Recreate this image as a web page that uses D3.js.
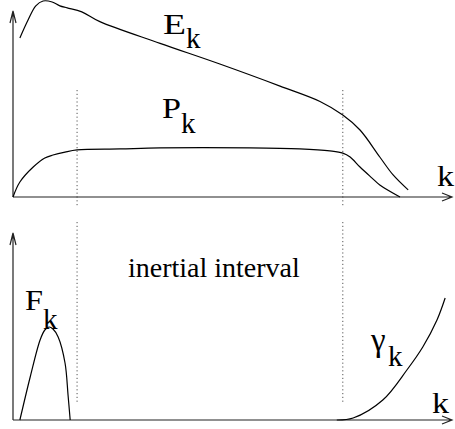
<!DOCTYPE html>
<html>
<head>
<meta charset="utf-8">
<script src="https://cdn.jsdelivr.net/npm/d3@7"></script>
<style>
  body { margin: 0; background: #fff; }
</style>
</head>
<body>
<div id="container"></div>
<script>
let w = 455;
let h = 429;
let serif = "'Liberation Serif', 'DejaVu Serif', serif";

// spectra (k in 0..100, value in 0..100 per panel)
let energy = [
  [1.6, 80.7], [3.5, 89.8], [5.3, 97], [7.0, 99.5], [9.1, 99], [10.9, 97],
  [12.6, 96], [16.0, 94], [20.2, 89], [34.2, 78], [48.1, 67.5], [62.1, 56.3],
  [71.4, 48.5], [76.7, 41.6], [80.7, 34], [85.3, 20.3], [88.4, 11.2], [91.9, 3.6]
];
let flux = [
  [0, 0], [1.6, 7.6], [4.7, 15.2], [7.4, 19.8], [9.3, 21.3], [12.1, 22.8],
  [14.9, 23.9], [24.9, 24.4], [34.2, 24.9], [55.1, 24.9], [66.7, 24.4],
  [73.7, 23.4], [76.7, 22.3], [78.4, 20.3], [80.7, 15.2], [83.5, 9.6],
  [85.3, 6.1], [90, 0]
];
let forcing = [
  [1.6, 0], [4.0, 21.5], [6.3, 40], [7.4, 45], [8.4, 46.5], [9.3, 45.5],
  [10.5, 41.5], [12.1, 28.5], [12.8, 12.5], [13.3, 0]
];
let damping = [
  [75.3, 0], [79.1, 1], [86, 10], [91.6, 25], [95.3, 36.5], [98.6, 50], [100.5, 61]
];
let boundaries = [14.9, 76.7];

let viz = d3.select("#container")
  .append("svg")
  .attr("width", w)
  .attr("height", h);

let x = d3.scaleLinear().domain([0, 100]).range([13, 443]);
let yTop = d3.scaleLinear().domain([0, 100]).range([197, 0]);
let yBot = d3.scaleLinear().domain([0, 100]).range([420, 220]);

function drawPanel(y, axisTop, dotTop, dotBottom) {
  let g = viz.append("g");

  // dotted boundaries of the inertial interval
  g.selectAll(".bound").data(boundaries).enter()
    .append("line")
    .attr("class", "bound")
    .attr("x1", d => x(d)).attr("x2", d => x(d))
    .attr("y1", dotTop).attr("y2", dotBottom)
    .attr("stroke", "#555")
    .attr("stroke-width", 1)
    .attr("stroke-dasharray", "1.2,2.6");

  // axes with open arrow heads
  let x0 = x(0), yb = y(0);
  g.append("path")
    .attr("d", `M${x0},${yb}H452M442,${yb - 4}L452,${yb}L442,${yb + 4}`)
    .attr("fill", "none").attr("stroke", "#222").attr("stroke-width", 1.2);
  g.append("path")
    .attr("d", `M${x0},${yb}V${axisTop}M${x0 - 3},${axisTop + 12}L${x0},${axisTop}L${x0 + 3},${axisTop + 12}`)
    .attr("fill", "none").attr("stroke", "#222").attr("stroke-width", 1.2);
  return g;
}

function curve(g, y, data) {
  let line = d3.line()
    .x(d => x(d[0]))
    .y(d => y(d[1]))
    .curve(d3.curveCatmullRom.alpha(0.5));
  g.append("path")
    .datum(data)
    .attr("d", line)
    .attr("fill", "none")
    .attr("stroke", "#000")
    .attr("stroke-width", 1.2);
}

// letter (optionally stretched to the wide glyphs of the original), subscript after it
function label(g, px, py, main, width, stretch, sub, dy, size = 29) {
  let t = g.append("text")
    .attr("x", px).attr("y", py)
    .attr("font-family", serif)
    .attr("font-size", size)
    .text(main);
  if (stretch) {
    t.attr("textLength", width).attr("lengthAdjust", "spacingAndGlyphs");
  }
  if (sub) {
    g.append("text")
      .attr("x", px + width).attr("y", py + dy)
      .attr("font-family", serif)
      .attr("font-size", 29)
      .text(sub);
  }
}

let topPanel = drawPanel(yTop, 11, 90, 207);
curve(topPanel, yTop, energy);
curve(topPanel, yTop, flux);
label(topPanel, 163, 34, "E", 23, true, "k", 14);
label(topPanel, 162, 118, "P", 19, true, "k", 15);
label(topPanel, 437, 186, "k", 17, true);

let botPanel = drawPanel(yBot, 233, 222, 404);
curve(botPanel, yBot, forcing);
curve(botPanel, yBot, damping);
label(botPanel, 25, 310, "F", 18, true, "k", 19);
label(botPanel, 371, 351, "\u03b3", 17, false, "k", 15, 33);
label(botPanel, 432, 413, "k", 17, true);

botPanel.append("text")
  .attr("x", 128).attr("y", 277)
  .attr("font-family", serif)
  .attr("font-size", 28)
  .text("inertial interval");
</script>
</body>
</html>
